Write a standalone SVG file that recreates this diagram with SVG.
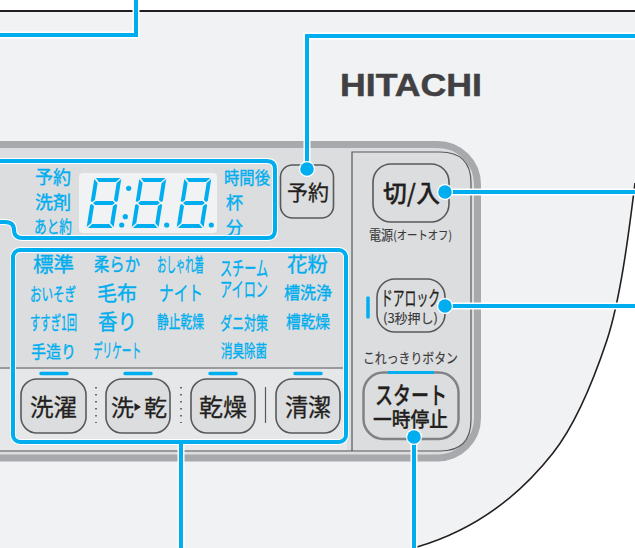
<svg xmlns="http://www.w3.org/2000/svg" width="635" height="548" viewBox="0 0 635 548">
<style>
text{font-family:"Noto Sans CJK JP","Noto Sans",sans-serif;text-anchor:start}
.b text{fill:#00aeef;stroke:#00aeef;stroke-width:.35}
.k{fill:#231f20;stroke:#231f20;stroke-width:.3}
.g{fill:#3a3a3c;stroke:#3a3a3c;stroke-width:.15}
.btn{fill:#dcddde;stroke:#58595b;stroke-width:1.6}
.halo{fill:none;stroke:#fff;stroke-width:7}
.halot{fill:none;stroke:#fff;stroke-width:6}
.blue{fill:none;stroke:#00aeef;stroke-width:4}
.bar{fill:none;stroke:#00aeef;stroke-width:3.5;stroke-linecap:round}
.dothalo{fill:#fff}
.dot{fill:#00aeef}
.sep{fill:none;stroke:#58595b;stroke-width:1.2}
</style>
<defs>
<g id="digit" class="dot">
<polygon points="1.5,-50 26,-50 22,-46 5,-46"/>
<polygon points="1.5,0 26,0 22,-4 5,-4"/>
<polygon points="5,-27 22,-27 24.5,-25 22,-23 5,-23 2.5,-25"/>
<polygon points="0,-49 4,-45 4,-28 1.5,-26 0,-27"/>
<polygon points="27,-49 23,-45 23,-28 25.5,-26 27,-27"/>
<polygon points="0,-1 4,-5 4,-22 1.5,-24 0,-23"/>
<polygon points="27,-1 23,-5 23,-22 25.5,-24 27,-23"/>
</g>
</defs>
<rect width="635" height="548" fill="#fff"/>
<g id="body">
<path d="M-5,11 H640 L635,183 C628,240 620,300 607,340 C592,385 575,425 553,453 C520,495 475,530 417,547 L395,553 H-5 Z" fill="#f1f2f4"/>
<path d="M-5,11 H635" fill="none" stroke="#231f20" stroke-width="2"/>
<path d="M635,183 C628,240 620,300 607,340 C592,385 575,425 553,453 C520,495 475,530 417,547 L395,553" fill="none" stroke="#231f20" stroke-width="1.6"/>
<text id="logo" x="340" y="96" font-size="32" font-weight="700" textLength="142" lengthAdjust="spacingAndGlyphs" style="font-family:'Liberation Sans',Arial,sans-serif" fill="#414042" stroke="#414042" stroke-width=".5">HITACHI</text>
</g>
<g id="panel">
<rect x="-60" y="144.500" width="537.500" height="313.500" rx="40" fill="#dcddde" stroke="#a7a9ac" stroke-width="7"/>
<path d="M-5,368 H348" class="sep"/>
<rect x="-5" y="369" width="352" height="81" fill="#e6e7e8"/>
<path d="M-5,451 H352" class="sep"/>
<path d="M352,451 V152 H440 Q471,152 471,183 V420 Q471,451 440,451 H352" class="sep"/>
</g>
<g id="display">
<rect x="79" y="173" width="138" height="60" rx="4" fill="#f1f2f4"/>
<use href="#digit" transform="translate(86.500,228) skewX(-9)"/>
<use href="#digit" transform="translate(131.500,228) skewX(-9)"/>
<use href="#digit" transform="translate(176.500,228) skewX(-9)"/>
<g class="dot">
<circle cx="128.700" cy="188.300" r="2.600"/>
<circle cx="125.300" cy="216.700" r="2.600"/>
<circle cx="121.700" cy="225" r="2.600"/>
<circle cx="166.700" cy="225" r="2.600"/>
<circle cx="211.300" cy="225" r="2.600"/>
</g>
<g class="b">
<text x="35" y="184" font-size="18" textLength="36" lengthAdjust="spacingAndGlyphs">予約</text>
<text x="35" y="209" font-size="18" textLength="36" lengthAdjust="spacingAndGlyphs">洗剤</text>
<text x="34" y="233" font-size="17" textLength="38" lengthAdjust="spacingAndGlyphs">あと約</text>
<text x="224" y="184" font-size="17" textLength="46" lengthAdjust="spacingAndGlyphs">時間後</text>
<text x="226" y="209" font-size="17">杯</text>
<text x="226" y="234" font-size="17">分</text>
</g>
</g>
<g id="modes" class="b">
<text x="33" y="272" font-size="20" textLength="41" lengthAdjust="spacingAndGlyphs">標準</text>
<text x="94" y="271" font-size="18" textLength="46" lengthAdjust="spacingAndGlyphs">柔らか</text>
<text x="157" y="272" font-size="19" textLength="47" lengthAdjust="spacingAndGlyphs">おしゃれ着</text>
<text x="220" y="276" font-size="20" textLength="48" lengthAdjust="spacingAndGlyphs">スチーム</text>
<text x="287" y="272" font-size="20" textLength="41" lengthAdjust="spacingAndGlyphs">花粉</text>
<text x="30" y="301" font-size="18" textLength="46" lengthAdjust="spacingAndGlyphs">おいそぎ</text>
<text x="97" y="301" font-size="20" textLength="40" lengthAdjust="spacingAndGlyphs">毛布</text>
<text x="159" y="301" font-size="20" textLength="44" lengthAdjust="spacingAndGlyphs">ナイト</text>
<text x="220" y="297" font-size="20" textLength="48" lengthAdjust="spacingAndGlyphs">アイロン</text>
<text x="284" y="299" font-size="17" textLength="48" lengthAdjust="spacingAndGlyphs">槽洗浄</text>
<text x="30" y="330" font-size="19" textLength="47" lengthAdjust="spacingAndGlyphs">すすぎ1回</text>
<text x="98" y="329" font-size="21" textLength="39" lengthAdjust="spacingAndGlyphs">香り</text>
<text x="157" y="328" font-size="17" textLength="47" lengthAdjust="spacingAndGlyphs">静止乾燥</text>
<text x="220" y="330" font-size="18" textLength="48" lengthAdjust="spacingAndGlyphs">ダニ対策</text>
<text x="286" y="328" font-size="17" textLength="44" lengthAdjust="spacingAndGlyphs">槽乾燥</text>
<text x="31" y="358" font-size="17" textLength="45" lengthAdjust="spacingAndGlyphs">手造り</text>
<text x="93" y="358" font-size="19" textLength="48" lengthAdjust="spacingAndGlyphs">デリケート</text>
<text x="221" y="357" font-size="17" textLength="46" lengthAdjust="spacingAndGlyphs">消臭除菌</text>
</g>
<g id="indicators">
<path d="M41,373.500 H67 M125,373.500 H151 M210,373.500 H236 M295,373.500 H321" class="bar"/>
<path d="M368,298 V317" class="bar" stroke-width="4"/>
<path d="M96,387 V423 M181,387 V423" fill="none" stroke="#414042" stroke-width="1.500" stroke-dasharray="1.500 5.500"/>
<path d="M265.500,387 V423" class="sep"/>
</g>
<g id="btn-wash">
<rect x="21" y="379" width="65" height="54" rx="16" class="btn"/>
<text x="30" y="416" font-size="24" class="k" textLength="47" lengthAdjust="spacingAndGlyphs">洗濯</text>
</g>
<g id="btn-washdry">
<rect x="106" y="379" width="64" height="54" rx="16" class="btn"/>
<text x="111" y="416" font-size="23" class="k">洗</text>
<polygon points="134.500,403 134.500,411 141,407" fill="#231f20"/>
<text x="144" y="416" font-size="23" class="k">乾</text>
</g>
<g id="btn-dry">
<rect x="191" y="379" width="64" height="54" rx="16" class="btn"/>
<text x="199" y="416" font-size="24" class="k" textLength="48" lengthAdjust="spacingAndGlyphs">乾燥</text>
</g>
<g id="btn-clean">
<rect x="276" y="379" width="64" height="54" rx="16" class="btn"/>
<text x="285" y="416" font-size="24" class="k" textLength="46" lengthAdjust="spacingAndGlyphs">清潔</text>
</g>
<g id="btn-reserve">
<rect x="280.500" y="165" width="53" height="53" rx="12" class="btn"/>
<text x="287" y="200" font-size="21" class="k">予約</text>
</g>
<g id="btn-power">
<rect x="373" y="164" width="76" height="58" rx="18" class="btn"/>
<text x="383" y="202" font-size="24" font-weight="500" class="k" textLength="57" lengthAdjust="spacingAndGlyphs">切/入</text>
<text x="369" y="240" font-size="14" class="g" textLength="83" lengthAdjust="spacingAndGlyphs">電源<tspan font-size="12">(オートオフ)</tspan></text>
</g>
<g id="btn-lock">
<rect x="377" y="279" width="68" height="53" rx="18" class="btn"/>
<text x="381" y="306" font-size="20" class="k" textLength="59" lengthAdjust="spacingAndGlyphs">ドアロック</text>
<text x="383" y="323" font-size="13" class="g" textLength="55" lengthAdjust="spacingAndGlyphs">(3秒押し)</text>
</g>
<g id="btn-start">
<text x="363" y="363" font-size="14" class="g" textLength="95" lengthAdjust="spacingAndGlyphs">これっきりボタン</text>
<rect x="363.500" y="372.500" width="95" height="66.500" rx="20" fill="#dcddde" stroke="#808285" stroke-width="2.500"/>
<path d="M388,372.500 H434" fill="none" stroke="#00aeef" stroke-width="3"/>
<text x="375" y="404" font-size="24" font-weight="500" class="k" textLength="72" lengthAdjust="spacingAndGlyphs">スタート</text>
<text x="373" y="427" font-size="20" font-weight="500" class="k" textLength="75" lengthAdjust="spacingAndGlyphs">一時停止</text>
</g>
<g id="connectors">
<path d="M-5,35 H136 V-5" class="halo"/>
<path d="M-5,35 H136 V-5" class="blue"/>
<path d="M-5,161 H267 Q275,161 275,169 V230 Q275,238 267,238 H23 Q14,238 14,230 Q14,222 5,222 H-5" class="halot"/>
<path d="M-5,161 H267 Q275,161 275,169 V230 Q275,238 267,238 H23 Q14,238 14,230 Q14,222 5,222 H-5" class="blue"/>
<rect x="13" y="250" width="333" height="192" rx="7" class="halot"/>
<path d="M181,442 V553" class="halo"/>
<rect x="13" y="250" width="333" height="192" rx="7" class="blue"/>
<path d="M181,442 V553" class="blue"/>
<path d="M307,169 V36 H640" class="halo"/>
<path d="M307,169 V36 H640" class="blue"/>
<path d="M445,192 H640" class="halo"/>
<path d="M445,192 H640" class="blue"/>
<path d="M445,306 H640" class="halo"/>
<path d="M445,306 H640" class="blue"/>
<path d="M414,437 V553" class="halo"/>
<path d="M414,437 V553" class="blue"/>
<circle cx="307" cy="169" r="8" class="dothalo"/><circle cx="307" cy="169" r="6.800" class="dot"/>
<circle cx="445" cy="192" r="8" class="dothalo"/><circle cx="445" cy="192" r="6.800" class="dot"/>
<circle cx="445" cy="306" r="8" class="dothalo"/><circle cx="445" cy="306" r="6.800" class="dot"/>
<circle cx="414" cy="437" r="8" class="dothalo"/><circle cx="414" cy="437" r="6.800" class="dot"/>
</g>
</svg>
